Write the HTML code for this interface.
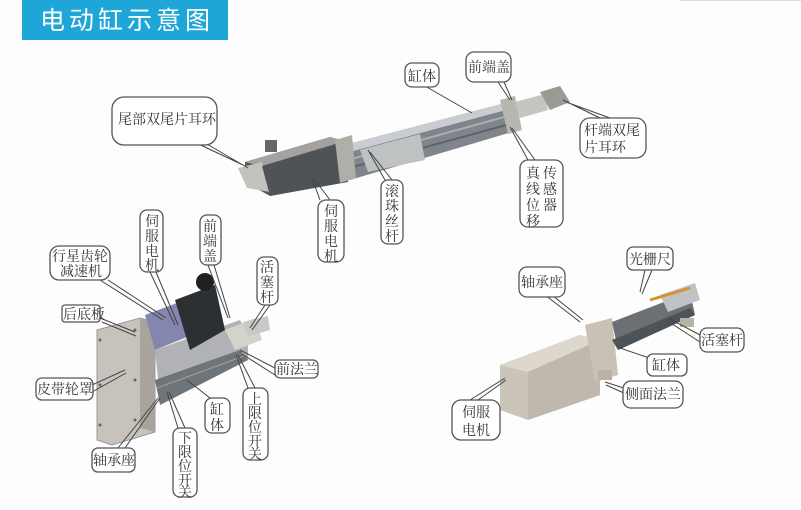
<!DOCTYPE html>
<html><head><meta charset="utf-8"><style>
html,body{margin:0;padding:0;background:#fff;}
svg{display:block;}
text{font-family:"Liberation Serif","Noto Serif CJK SC","Noto Sans CJK SC",serif;font-size:14px;fill:#333;}
.b{fill:#fff;stroke:#555;stroke-width:1.3;}
.p{fill:none;stroke:#444;stroke-width:1;}
</style></head><body>
<svg width="801" height="510" viewBox="0 0 801 510" xmlns="http://www.w3.org/2000/svg">
<rect x="0" y="0" width="801" height="510" fill="#fdfdfd"/>
<rect x="22" y="0" width="206" height="40" fill="#1fa6d9"/>
<text x="40" y="29" style="font-family:'Liberation Sans','Noto Sans CJK SC',sans-serif;font-size:25px;fill:#fff;letter-spacing:4px">电动缸示意图</text>
<line x1="680" y1="0.5" x2="801" y2="0.5" stroke="#ddd"/>

<!-- top actuator -->
<polygon points="345,145 505,103 512,132 350,180" fill="#7f858a"/>
<polygon points="345,145 505,103 506,110 346,153" fill="#c9cdd1"/>
<line x1="348" y1="160" x2="508" y2="116" stroke="#a9aeb2" stroke-width="2"/>
<line x1="349" y1="168" x2="510" y2="124" stroke="#5e6367" stroke-width="2"/>
<polygon points="360,150 420,134 425,160 368,172" fill="#bfc2c3"/>
<polygon points="500,100 515,96 522,130 508,134" fill="#b8b6b1"/>
<polygon points="515,102 545,94 548,110 520,118" fill="#c4c4c0"/>
<polygon points="540,92 560,86 570,102 550,110" fill="#9a9a95"/>
<polygon points="245,162 330,137 345,141 348,180 270,196 245,182" fill="#555a5d"/>
<polygon points="245,162 330,137 345,141 262,166" fill="#a4a29e"/>
<polygon points="238,168 262,162 270,192 247,188" fill="#c4c2bd"/>
<polygon points="262,166 345,143 348,182 270,196" fill="#4f5356"/>
<polygon points="335,140 352,135 356,178 340,183" fill="#b0aea9"/>
<rect x="265" y="140" width="12" height="12" fill="#666"/>

<!-- left actuator -->
<polygon points="97,330 140,318 155,322 155,432 112,445 97,440" fill="#c7c2bc" stroke="#999"/>
<polygon points="140,318 155,322 155,432 140,428" fill="#a8a39d"/>
<circle cx="100" cy="340" r="1.5" fill="#666"/><circle cx="100" cy="385" r="1.5" fill="#666"/><circle cx="100" cy="425" r="1.5" fill="#666"/>
<circle cx="135" cy="330" r="1.5" fill="#666"/><circle cx="135" cy="380" r="1.5" fill="#666"/><circle cx="135" cy="420" r="1.5" fill="#666"/>
<polygon points="155,350 240,320 248,335 248,360 160,398" fill="#b0b2b5"/>
<polygon points="155,380 240,350 248,360 160,405" fill="#6f7478"/>
<line x1="157" y1="388" x2="244" y2="356" stroke="#9aa0a4"/>
<polygon points="145,315 185,300 192,335 155,350" fill="#8486b0"/>
<polygon points="175,300 215,285 225,330 190,350" fill="#2d3033"/>
<circle cx="205" cy="282" r="9" fill="#1e2022"/>
<polygon points="225,330 255,318 262,340 235,350" fill="#d5d2cc"/>
<polygon points="243,322 268,316 270,330 248,336" fill="#c8c8c8"/>

<!-- right actuator -->
<polygon points="500,365 580,335 600,340 600,395 528,420 500,410" fill="#cbc4b8"/>
<polygon points="500,365 580,335 600,340 528,372" fill="#ddd7cc"/>
<polygon points="528,372 600,340 600,395 528,420" fill="#bfb8ac"/>
<polygon points="585,325 612,318 618,375 595,382" fill="#c8c1b5"/>
<polygon points="612,322 690,292 695,315 618,350" fill="#6a7074"/>
<polygon points="612,340 690,308 695,315 618,350" fill="#4e5357"/>
<polygon points="660,295 695,283 700,300 668,312" fill="#c0c3c5"/>
<line x1="650" y1="300" x2="690" y2="288" stroke="#d89030" stroke-width="3"/>
<rect x="598" y="370" width="14" height="10" fill="#b9b2a6"/>
<rect x="680" y="318" width="14" height="9" fill="#b9b2a6"/>

<!-- callouts -->
<g class="p">
<path d="M190,140 L243,165 M200,140 L248,168"/>
<path d="M320,200 L312,178 M330,200 L315,180"/>
<path d="M385,180 L368,150 M392,180 L370,152"/>
<path d="M425,86 L472,113"/>
<path d="M498,82 L510,100 M504,82 L512,100"/>
<path d="M600,118 L563,100 M610,118 L566,102"/>
<path d="M528,160 L510,127 M535,160 L512,128"/>
<path d="M645,270 L640,292 M652,270 L642,294"/>
<path d="M545,295 L580,322 M552,295 L583,320"/>
<path d="M700,335 L668,318 M700,342 L666,320"/>
<path d="M655,360 L620,348"/>
<path d="M630,390 L605,382 M635,398 L606,385"/>
<path d="M470,400 L505,378 M478,400 L506,380"/>
<path d="M100,280 L163,320 M108,280 L166,318"/>
<path d="M150,272 L175,325 M156,272 L178,325"/>
<path d="M208,265 L228,318 M214,265 L230,318"/>
<path d="M265,305 L250,328 M270,305 L252,330"/>
<path d="M100,318 L135,332 M102,322 L136,336"/>
<path d="M275,368 L240,350 M275,375 L242,354"/>
<path d="M92,385 L125,370 M92,392 L126,373"/>
<path d="M210,398 L187,380"/>
<path d="M248,388 L236,355 M255,388 L238,355"/>
<path d="M178,428 L167,392 M185,428 L169,392"/>
<path d="M118,448 L158,398 M125,448 L160,398"/>
</g>

<rect class="b" x="112" y="97" width="105" height="48" rx="12"/>
<text x="118" y="124">尾部双尾片耳环</text>
<rect class="b" x="318" y="200" width="26" height="62" rx="8"/>
<text x="324" y="216">伺</text><text x="324" y="231">服</text><text x="324" y="246">电</text><text x="324" y="261">机</text>
<rect class="b" x="381" y="180" width="22" height="64" rx="7"/>
<text x="385" y="196">滚</text><text x="385" y="211">珠</text><text x="385" y="226">丝</text><text x="385" y="241">杆</text>
<rect class="b" x="405" y="63" width="34" height="24" rx="7"/>
<text x="408" y="81">缸体</text>
<rect class="b" x="466" y="52" width="45" height="30" rx="8"/>
<text x="468" y="72">前端盖</text>
<rect class="b" x="580" y="118" width="66" height="40" rx="10"/>
<text x="584" y="135">杆端双尾</text><text x="584" y="152">片耳环</text>
<rect class="b" x="520" y="160" width="43" height="67" rx="8"/>
<text x="526" y="178">真</text><text x="526" y="194">线</text><text x="526" y="210">位</text><text x="526" y="226">移</text>
<text x="543" y="178">传</text><text x="543" y="194">感</text><text x="543" y="210">器</text>
<rect class="b" x="627" y="247" width="46" height="23" rx="6"/>
<text x="629" y="264">光栅尺</text>
<rect class="b" x="519" y="267" width="46" height="30" rx="8"/>
<text x="521" y="287">轴承座</text>
<rect class="b" x="700" y="328" width="44" height="24" rx="7"/>
<text x="701" y="345">活塞杆</text>
<rect class="b" x="647" y="354" width="40" height="22" rx="6"/>
<text x="652" y="370">缸体</text>
<rect class="b" x="623" y="381" width="60" height="27" rx="8"/>
<text x="625" y="399">侧面法兰</text>
<rect class="b" x="452" y="400" width="48" height="40" rx="9"/>
<text x="462" y="417">伺服</text><text x="462" y="435">电机</text>

<rect class="b" x="140" y="210" width="23" height="62" rx="7"/>
<text x="145" y="226">伺</text><text x="145" y="241">服</text><text x="145" y="256">电</text><text x="145" y="270">机</text>
<rect class="b" x="200" y="215" width="21" height="50" rx="7"/>
<text x="203" y="231">前</text><text x="203" y="246">端</text><text x="203" y="261">盖</text>
<rect class="b" x="50" y="246" width="60" height="34" rx="9"/>
<text x="52" y="261">行星齿轮</text><text x="60" y="276">减速机</text>
<rect class="b" x="257" y="257" width="21" height="48" rx="7"/>
<text x="260" y="272">活</text><text x="260" y="287">塞</text><text x="260" y="302">杆</text>
<rect class="b" x="62" y="305" width="38" height="17" rx="3"/>
<text x="63" y="319">后底板</text>
<rect class="b" x="275" y="360" width="43" height="18" rx="5"/>
<text x="276" y="374">前法兰</text>
<rect class="b" x="36" y="378" width="57" height="22" rx="6"/>
<text x="37" y="394">皮带轮罩</text>
<rect class="b" x="205" y="398" width="25" height="35" rx="7"/>
<text x="210" y="414">缸</text><text x="210" y="430">体</text>
<rect class="b" x="243" y="388" width="25" height="72" rx="7"/>
<text x="248" y="404">上</text><text x="248" y="418">限</text><text x="248" y="432">位</text><text x="248" y="446">开</text><text x="248" y="459">关</text>
<rect class="b" x="173" y="428" width="24" height="69" rx="7"/>
<text x="178" y="443">下</text><text x="178" y="457">限</text><text x="178" y="471">位</text><text x="178" y="485">开</text><text x="178" y="497">关</text>
<rect class="b" x="92" y="448" width="43" height="24" rx="6"/>
<text x="93" y="465">轴承座</text>
</svg>
</body></html>
